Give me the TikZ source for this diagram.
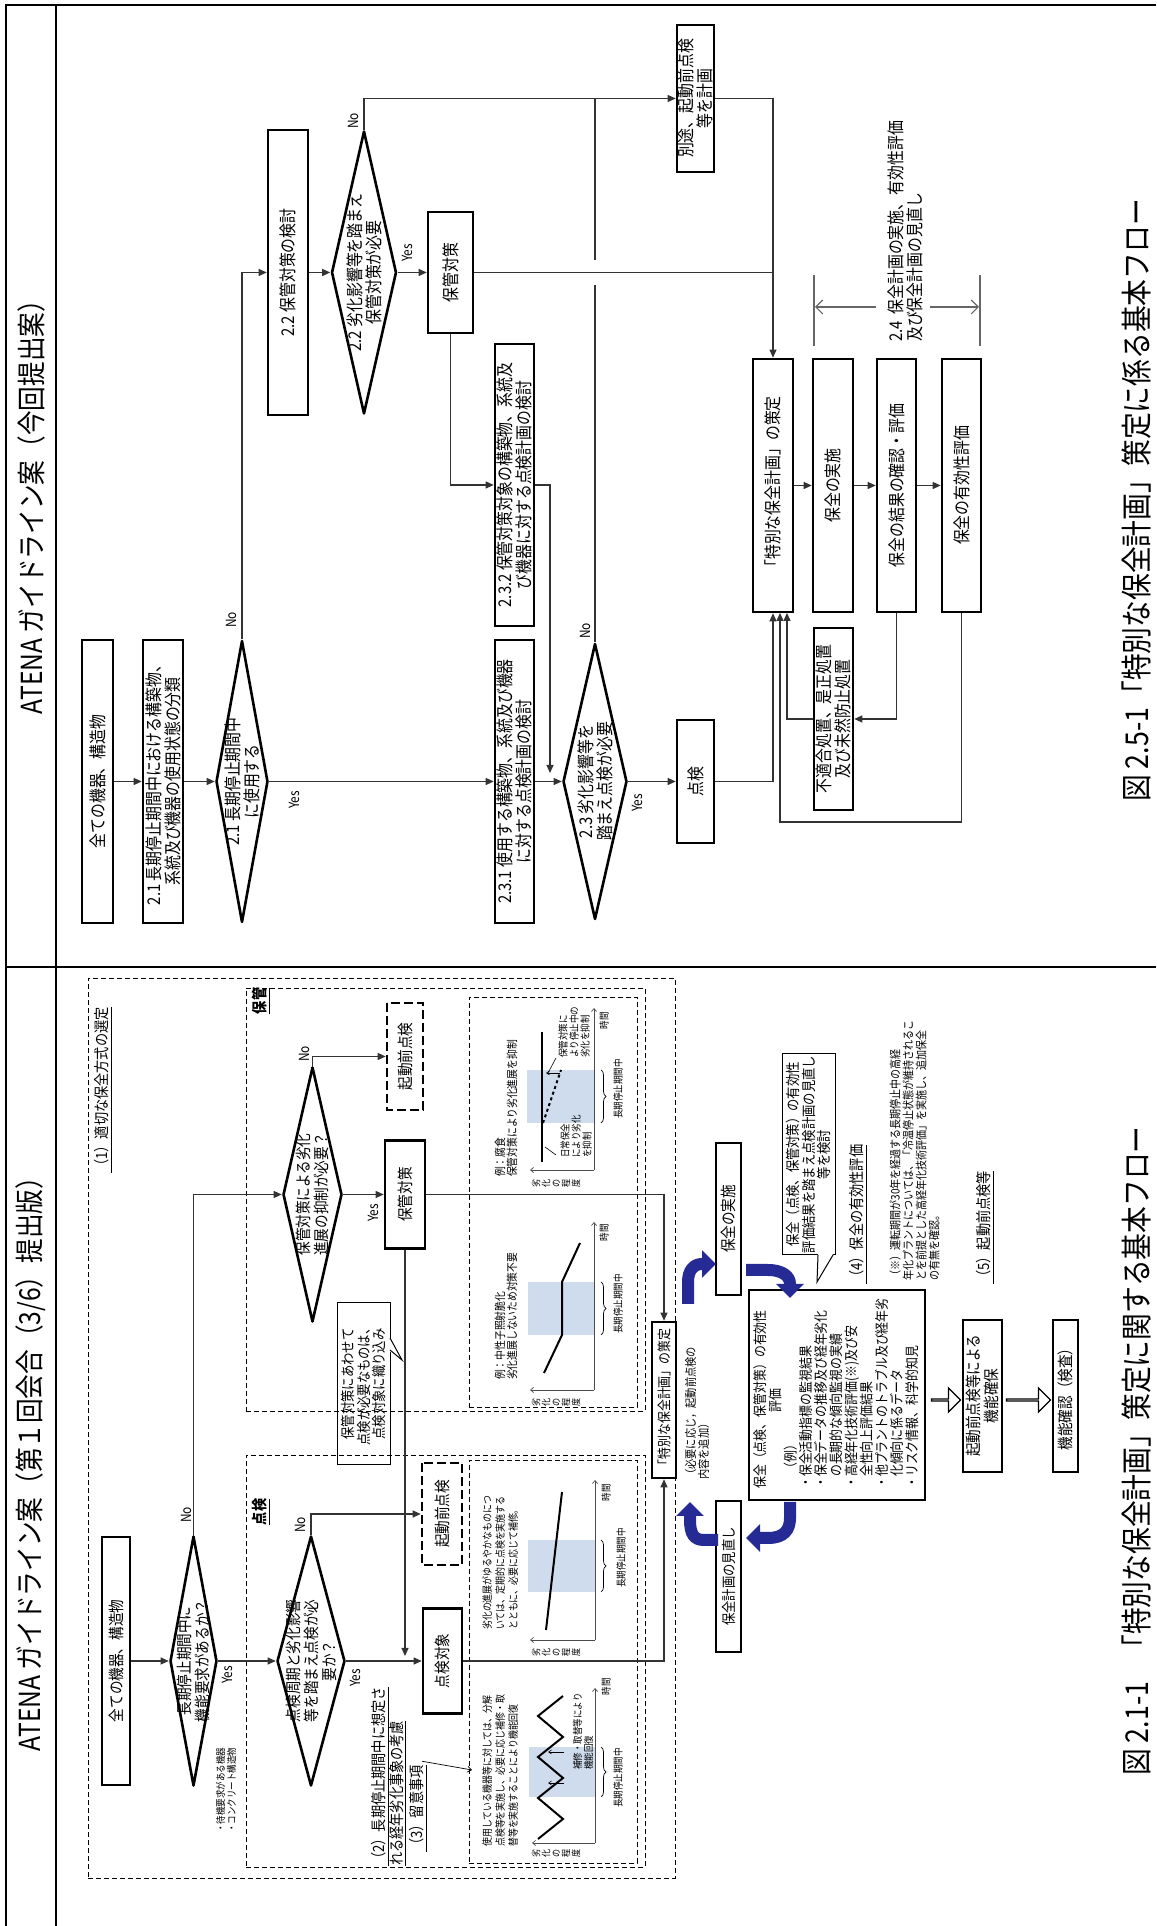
\documentclass[tikz,border=0pt]{standalone}
\usepackage{fontspec}
\setmainfont{Noto Sans CJK JP}[FakeStretch=0.85]
\usetikzlibrary{arrows.meta,shapes.geometric,shapes.arrows,decorations.pathreplacing}

\definecolor{ombre}{RGB}{206,220,237}
\definecolor{marine}{RGB}{38,42,148}

\newcommand{\ftete}{\fontsize{29}{31}\selectfont}
\newcommand{\flegende}{\fontsize{31.5}{34}\selectfont}
\newcommand{\fboite}{\fontsize{17.5}{19}\selectfont}
\newcommand{\fgauche}{\fontsize{16}{18}\selectfont}
\newcommand{\fsection}{\fontsize{15.5}{18}\selectfont}
\newcommand{\fnote}{\fontsize{14.5}{15.5}\selectfont}
\newcommand{\fbilan}{\fontsize{14}{15.2}\selectfont}
\newcommand{\fkome}{\fontsize{11.8}{13}\selectfont}
\newcommand{\fgraphe}{\fontsize{11.5}{12}\selectfont}
\newcommand{\fgraphp}{\fontsize{10.5}{13}\selectfont}
\newcommand{\fmini}{\fontsize{10}{11}\selectfont}
\newcommand{\fvert}{\fontsize{9.5}{10}\selectfont}
\newcommand{\foui}{\fontsize{14}{15}\selectfont}

\tikzset{
  cadre/.style={line width=2.2pt},
  boite/.style={draw, line width=2.6pt, align=center, inner sep=0pt, font=\fboite},
  losange/.style={draw, diamond, line width=2.6pt, inner sep=0pt, line join=round},
  texte/.style={align=center, inner sep=0pt},
  fil/.style={line width=1.1pt, black!80},
  fleche/.style={fil, -{Triangle[length=8pt,width=7pt]}},
  pointille/.style={line width=0.9pt, dash pattern=on 5pt off 3pt},
  tiret/.style={dash pattern=on 9pt off 4pt},
  oui/.style={font=\foui, inner sep=0pt},
  axe/.style={line width=0.7pt, black!70, -{Straight Barb[length=3pt,width=5pt]}},
  trait/.style={line width=2pt},
  accolade/.style={line width=0.7pt, decorate, decoration={brace, mirror, amplitude=5pt}},
  bleu/.style={draw=marine, line width=12pt, -{Triangle[length=14pt,width=27pt]}},
  creux/.style={single arrow, draw, line width=1.2pt, fill=white, minimum width=24pt, single arrow head extend=6pt, inner sep=0pt, rotate=-90},
}

\begin{document}
\begin{tikzpicture}[x=1pt, y=-1pt, rotate=90, transform shape]

    % Cadre
    \useasboundingbox (0,0) rectangle (1926,1156);
    \draw[cadre] (0,6) -- (1921,6) -- (1921,1156);
    \draw[cadre] (0,56) -- (1921,56);
    \draw[cadre] (959,6) -- (959,1156);

    % Titres
    \node[texte, font=\ftete] (titreG) at (468,31) {ATENA ガイドライン案（第１回会合（3/6）提出版）};
    \node[texte, font=\ftete] (titreD) at (1425,31) {ATENA ガイドライン案（今回提出案）};
    \node[texte, font=\flegende, anchor=west] (legG) at (150,1137) {図 2.1-1\hspace*{20pt}「特別な保全計画」策定に関する基本フロー};
    \node[texte, font=\flegende, anchor=west] (legD) at (1124,1137) {図 2.5-1「特別な保全計画」策定に係る基本フロー};

    % ===== Colonne de droite =====
    \node[boite, minimum width=283pt, minimum height=31pt] (tous) at (1144.5,97.5) {全ての機器、構造物};
    \node[boite, minimum width=283pt, minimum height=40pt] (classe) at (1144.5,163) {2.1 長期停止期間中における構築物、\\系統及び機器の使用状態の分類};
    \node[losange, minimum width=282pt, minimum height=52pt] (d21) at (1144.5,242) {};
    \node[texte, font=\fboite] (d21t) at (d21) {2.1 長期停止期間中\\に使用する};
    \node[boite, minimum width=285pt, minimum height=40pt] (kento) at (1653.5,288) {2.2 保管対策の検討};
    \node[losange, minimum width=283pt, minimum height=65pt] (d22) at (1653.5,364) {};
    \node[texte, font=\fboite] (d22t) at (d22) {2.2 劣化影響等を踏まえ\\保管対策が必要};
    \node[boite, minimum width=121pt, minimum height=45pt] (hokan) at (1653.5,450.5) {保管対策};
    \node[boite, minimum width=283pt, minimum height=39pt] (plan1) at (1144.5,514.5) {2.3.1 使用する構築物、系統及び機器\\に対する点検計画の検討};
    \node[boite, minimum width=282pt, minimum height=39pt] (plan2) at (1441,514.5) {2.3.2 保管対策対象の構築物、系統及\\び機器に対する点検計画の検討};
    \node[losange, minimum width=276pt, minimum height=64pt] (d23) at (1144.5,595) {};
    \node[texte, font=\fboite] (d23t) at (d23) {2.3 劣化影響等を\\踏まえ点検が必要};
    \node[boite, minimum width=123pt, minimum height=37pt] (tenken) at (1144.5,695.5) {点検};
    \node[boite, minimum width=147pt, minimum height=37pt] (betto) at (1827.5,695.5) {別途、起動前点検\\等を計画};
    \node[boite, minimum width=253pt, minimum height=40pt] (toku) at (1440.5,773) {「特別な保全計画」の策定};
    \node[boite, minimum width=253pt, minimum height=40pt] (jisshi) at (1440.5,833) {保全の実施};
    \node[boite, minimum width=253pt, minimum height=39pt] (kakunin) at (1440.5,896.5) {保全の結果の確認・評価};
    \node[boite, minimum width=253pt, minimum height=39pt] (yuko) at (1440.5,961.5) {保全の有効性評価};
    \node[boite, minimum width=182pt, minimum height=39pt] (futeki) at (1207,833.5) {不適合処置、是正処置\\及び未然防止処置};

    % Yes / No
    \node[oui] (n21) at (1306,231) {No};
    \node[oui] (y21) at (1126,294) {Yes};
    \node[oui] (n22) at (1805,353) {No};
    \node[oui] (y22) at (1673,407) {Yes};
    \node[oui] (n23) at (1295,585) {No};
    \node[oui] (y23) at (1123,637) {Yes};

    % Flèches
    \draw[fleche] (tous) -- (classe);
    \draw[fleche] (classe) -- (d21);
    \draw[fleche] (d21.south) -- (plan1.north);
    \draw[fleche] (d21.east) -- (1653.5,242) -- (kento.north);
    \draw[fleche] (kento) -- (d22);
    \draw[fleche] (d22.south) -- (hokan.north);
    \draw[fleche] (d22.east) -- (1827.5,364) -- (betto.north);
    \draw[fleche] (hokan.west) -- (1441,450.5) -- (plan2.north);
    \draw[fil] (hokan.south) -- (1653.5,773);
    \draw[fleche] (betto.south) -- (1827.5,773) -- (toku.east);
    \draw[fleche] (plan1) -- (d23);
    \draw[fleche] (plan2.south) -- (1441,550) -- (1153,550);
    \draw[fleche] (d23.south) -- (tenken.north);
    \coordinate (sautA) at (1641,595);
    \coordinate (sautB) at (1666,595);
    \draw[fil] (d23.east) -- (sautA);
    \draw[fil] (sautB) -- (1827.5,595);
    \draw[fleche] (tenken.south) -- (1144.5,773) -- (toku.west);
    \draw[fleche] (toku) -- (jisshi);
    \draw[fleche] (jisshi) -- (kakunin);
    \draw[fleche] (kakunin) -- (yuko);
    \draw[fleche] (yuko.west) -- (1104,961.5) -- (1104,780) -- (1313,780);
    \draw[fleche] (kakunin.west) -- (1207,896.5) -- (futeki.south);
    \draw[fleche] (futeki.north) -- (1207,787) -- (1313,787);

    % Cote 2.4
    \draw[fil, black!60] (1580,814) -- (1651,814);
    \draw[fil, black!60] (1580,980) -- (1651,980);
    \draw[fil, black!60, -{Straight Barb[length=7pt,width=14pt]}] (1619,876) -- (1619,815);
    \draw[fil, black!60, -{Straight Barb[length=7pt,width=14pt]}] (1619,930) -- (1619,979);
    \node[texte, font=\fboite, align=left, anchor=west] (etape) at (1584,905) {2.4\ \ 保全計画の実施、有効性評価\\及び保全計画の見直し};

    % ===== Colonne de gauche =====
    % Cadres pointillés
    \draw[pointille] (48,88) rectangle (948,675);
    \draw[pointille] (515,246) rectangle (938,645);
    \draw[pointille] (59,246) rectangle (471,645);
    \draw[pointille] (519,469) rectangle (929,637);
    \draw[pointille] (63,469) rectangle (466,637);

    \node[texte, font=\fsection, anchor=west] (sec1) at (753,103) {\underline{（1）適切な保全方式の選定}};
    \node[texte, font=\fsection\bfseries] (lblH) at (925,261) {\underline{保管}};
    \node[texte, font=\fsection\bfseries] (lblT) at (414,261) {\underline{点検}};
    \node[texte, font=\fsection, align=left, anchor=west] (sec2) at (60,389) {\underline{（2）長期停止期間中に想定さ}\\\underline{れる経年劣化事象の考慮}};
    \node[texte, font=\fsection, anchor=west] (sec3) at (74,418) {\underline{（3）留意事項}};

    % Logigramme
    \node[boite, font=\fgauche, minimum width=248pt, minimum height=28pt] (tousG) at (265,116) {全ての機器、構造物};
    \node[losange, minimum width=250pt, minimum height=47pt] (q1) at (265,193.5) {};
    \node[texte, font=\fgauche] (q1t) at (q1) {長期停止期間中に\\機能要求があるか？};
    \node[losange, minimum width=250pt, minimum height=68pt] (q2) at (265,311) {};
    \node[texte, font=\fgauche] (q2t) at (q2) {点検周期と劣化影響\\等を踏まえ点検が必\\要か？};
    \node[losange, minimum width=255pt, minimum height=59pt] (q3) at (731.5,312.5) {};
    \node[texte, font=\fgauche] (q3t) at (q3) {保管対策による劣化\\進展の抑制が必要？};
    \node[boite, font=\fgauche, minimum width=108pt, minimum height=40pt] (hokanG) at (731.5,405) {保管対策};
    \node[boite, font=\fgauche, tiret, minimum width=107pt, minimum height=36pt] (kidoH) at (869.5,405) {起動前点検};
    \node[boite, font=\fgauche, minimum width=105pt, minimum height=39pt] (cible) at (265,442.5) {点検対象};
    \node[boite, font=\fgauche, tiret, minimum width=102pt, minimum height=40pt] (kidoT) at (412,442) {起動前点検};
    \node[texte, draw, line width=1pt, font=\fnote, minimum width=162pt, minimum height=53pt] (memo) at (542,363.5) {保管対策にあわせて\\点検が必要なものは、\\点検対象に織り込み};
    \fill[white] (575,389.2) -- (566,402) -- (589,389.2) -- cycle;
    \draw[line width=1pt] (576,390) -- (566,402) -- (588,390);
    \node[texte, font=\fmini, align=left, anchor=west] (bullets) at (93,226) {・待機要求がある機器\\・コンクリート構造物};
    \node[boite, font=\fontsize{14}{15}\selectfont, minimum width=156pt, minimum height=24pt] (tokuG) at (526,664) {「特別な保全計画」の策定};
    \node[texte, font=\fontsize{12}{13}\selectfont, align=left, anchor=west] (tsuika) at (446,697) {（必要に応じ，起動前点検の\\内容を追加）};

    \node[oui] (nq1) at (411,186) {No};
    \node[oui] (yq1) at (251,227) {Yes};
    \node[oui] (nq2) at (401,300) {No};
    \node[oui] (yq2) at (248,355) {Yes};
    \node[oui] (nq3) at (872,304) {No};
    \node[oui] (yq3) at (713,373) {Yes};

    \draw[fleche] (tousG) -- (q1);
    \draw[fleche] (q1.south) -- (q2.north);
    \draw[fleche] (q1.east) -- (731.5,193.5) -- (q3.north);
    \draw[fleche] (q2.east) -- (412,311) -- (kidoT.north);
    \draw[fleche] (q2.south) -- (cible.north);
    \draw[fleche] (q3.east) -- (869.5,312.5) -- (kidoH.north);
    \draw[fleche] (q3.south) -- (hokanG.north);
    \draw[fleche] (hokanG.west) -- (270,405);
    \draw[fleche] (hokanG.south) -- (731.5,664) -- (tokuG.east);
    \draw[fleche] (cible.south) -- (265,664) -- (tokuG.west);

    % Graphe A : corrosion
    \fill[ombre] (803,527) rectangle (856,594);
    \draw[axe] (756,594) -- (756,530);
    \draw[axe] (756,594) -- (918,594);
    \draw[trait] (764,542) -- (894,542);
    \draw[trait, dashed] (803,543) -- (856,561);
    \draw[line width=0.6pt, -{Straight Barb[length=3pt,width=4pt]}] (853,560) -- (853,546);
    \draw[line width=0.6pt] (868,556) -- (853,548);
    \draw[line width=0.6pt] (771,556) -- (779,545);
    \draw[accolade] (803,601) -- (856,601);
    \node[texte, font=\fgraphe, align=left, anchor=west] (gA1) at (749,506) {例：腐食\\保管対策により劣化進展を抑制};
    \node[texte, font=\fmini, align=left, anchor=west] (gA2) at (868,574) {保管対策に\\より停止中の\\劣化を抑制};
    \node[texte, font=\fmini, align=left, anchor=west] (gA3) at (768,576) {日常保全\\により劣化\\を抑制};
    \node[texte, font=\fmini] (gA4) at (837,618) {長期停止期間中};
    \node[texte, font=\fmini] (gA5) at (905,604) {時間};
    \node[texte, font=\fvert] (gA6) at (743,556) {劣\\化\\の\\程\\度};

    % Graphe B : fragilisation
    \fill[ombre] (591,528) rectangle (644,594);
    \draw[axe] (536,594) -- (536,530);
    \draw[axe] (536,594) -- (704,594);
    \draw[trait] (553,544) -- (591,562) -- (644,562) -- (683,580);
    \draw[accolade] (591,601) -- (644,601);
    \node[texte, font=\fgraphe, align=left, anchor=west] (gB1) at (546,506) {例：中性子照射脆化\\劣化進展しないため対策不要};
    \node[texte, font=\fmini] (gB2) at (622,618) {長期停止期間中};
    \node[texte, font=\fmini] (gB3) at (693,604) {時間};
    \node[texte, font=\fvert] (gB4) at (524,556) {劣\\化\\の\\程\\度};

    % Graphe C : progression lente
    \fill[ombre] (334,528) rectangle (386,595);
    \draw[axe] (286,595) -- (286,530);
    \draw[axe] (286,595) -- (446,595);
    \draw[trait] (296,546) -- (434,562);
    \draw[accolade] (334,601) -- (386,601);
    \node[texte, font=\fgraphp, align=left, anchor=west] (gC1) at (296,500) {劣化の進展がゆるやかなものにつ\\いては、定期的に点検を実施する\\とともに、必要に応じて補修。};
    \node[texte, font=\fmini] (gC2) at (368,621) {長期停止期間中};
    \node[texte, font=\fmini] (gC3) at (433,606) {時間};
    \node[texte, font=\fvert] (gC4) at (274,556) {劣\\化\\の\\程\\度};

    % Graphe D : dents de scie
    \fill[ombre] (129,529) rectangle (179,595);
    \draw[axe] (83,595) -- (83,532);
    \draw[axe] (83,595) -- (238,595);
    \draw[trait] (87,538) -- (107,563) -- (128,538) -- (148,563) -- (169,538) -- (189,563) -- (210,538) -- (230,563);
    \draw[line width=0.6pt, -{Straight Barb[length=3pt,width=4pt]}] (143,564) -- (143,548);
    \draw[line width=0.6pt, -{Straight Barb[length=3pt,width=4pt]}] (174,564) -- (174,548);
    \draw[accolade] (129,601) -- (179,601);
    \node[texte, font=\fmini, align=left, anchor=west] (gD1) at (156,583) {補修・取替等により\\機能回復};
    \node[texte, font=\fgraphp, align=left, anchor=west] (gD2) at (79,500) {使用している機器等に対しては、分解\\点検等を実施し、必要に応じ補修・取\\替等を実施することにより機能回復};
    \node[texte, font=\fmini] (gD3) at (148,618) {長期停止期間中};
    \node[texte, font=\fmini] (gD4) at (239,606) {時間};
    \node[texte, font=\fvert] (gD5) at (73,556) {劣\\化\\の\\程\\度};
    \draw[line width=0.7pt, -{Straight Barb[length=4pt,width=6pt]}] (sec3.east) ++(4,4) -- (156,472);

    % Cycle du plan
    \node[boite, line width=2pt, font=\fgauche, minimum width=152pt, minimum height=25pt] (jisshiG) at (707,728.5) {保全の実施};
    \node[boite, line width=2pt, font=\fnote, minimum width=151pt, minimum height=25pt] (minaoshi) at (349.5,728.5) {保全計画の見直し};
    \node[draw, line width=1.8pt, minimum width=210pt, minimum height=176pt, inner sep=0pt] (bilan) at (531,837) {};
    \node[texte, font=\fbilan, align=left, anchor=north west] (bilant) at (437,753) {保全（点検、保管対策）の有効性\\
      \hspace*{76pt}評価\\
      \hspace*{14pt}（例）\\
      ・保全活動指標の監視結果\\
      ・保全データの推移及び経年劣化\\
      \hphantom{・}の長期的な傾向監視の実績\\
      ・高経年化技術評価(※)及び安\\
      \hphantom{・}全性向上評価結果\\
      ・他プラントのトラブル及び経年劣\\
      \hphantom{・}化傾向に係るデータ\\
      ・リスク情報、科学的知見};
    \node[texte, draw, line width=1pt, font=\fnote, minimum width=201pt, minimum height=53pt] (appel) at (771.5,808.5) {保全（点検、保管対策）の有効性\\評価結果を踏まえ点検計画の見直し\\等を検討};
    \fill[white] (671.8,818) -- (644,817) -- (671.8,833) -- cycle;
    \draw[line width=1pt] (671,818) -- (644,817) -- (671,833);

    \draw[bleu] (622,688) -- (644,688) .. controls (656,688) and (662,694) .. (662,702) -- (662,716);
    \draw[bleu] (656,746) -- (656,768) .. controls (656,782) and (650,790) .. (642,790) -- (628,790);
    \draw[bleu] (424,790) -- (408,790) .. controls (396,790) and (388,784) .. (388,768) -- (388,746);
    \draw[bleu] (386,718) -- (386,704) .. controls (386,694) and (392,690) .. (406,690) -- (424,690);

    \node[texte, font=\fsection, anchor=west] (sec4) at (642,858) {\underline{（4）保全の有効性評価}};
    \node[texte, font=\fkome, align=left, anchor=west] (kome) at (645,914.5) {（※）運転期間が30年を経過する長期停止中の高経\\年化プラントについては、「冷温停止状態が維持されるこ\\とを前提とした高経年化技術評価」を実施し、追加保全\\の有無を確認。};
    \node[texte, font=\fsection, anchor=west] (sec5) at (642,985) {\underline{（5）起動前点検等}};

    \node[creux, minimum height=29pt] (fc1) at (526,945.5) {};
    \node[boite, line width=2pt, font=\fgauche, minimum width=152pt, minimum height=39pt] (kino1) at (530,982.5) {起動前点検等による\\機能確保};
    \node[creux, minimum height=44pt] (fc2) at (526,1028) {};
    \node[boite, line width=2pt, font=\fgauche, minimum width=152pt, minimum height=25pt] (kino2) at (530,1065.5) {機能確認（検査）};

\end{tikzpicture}
\end{document}
